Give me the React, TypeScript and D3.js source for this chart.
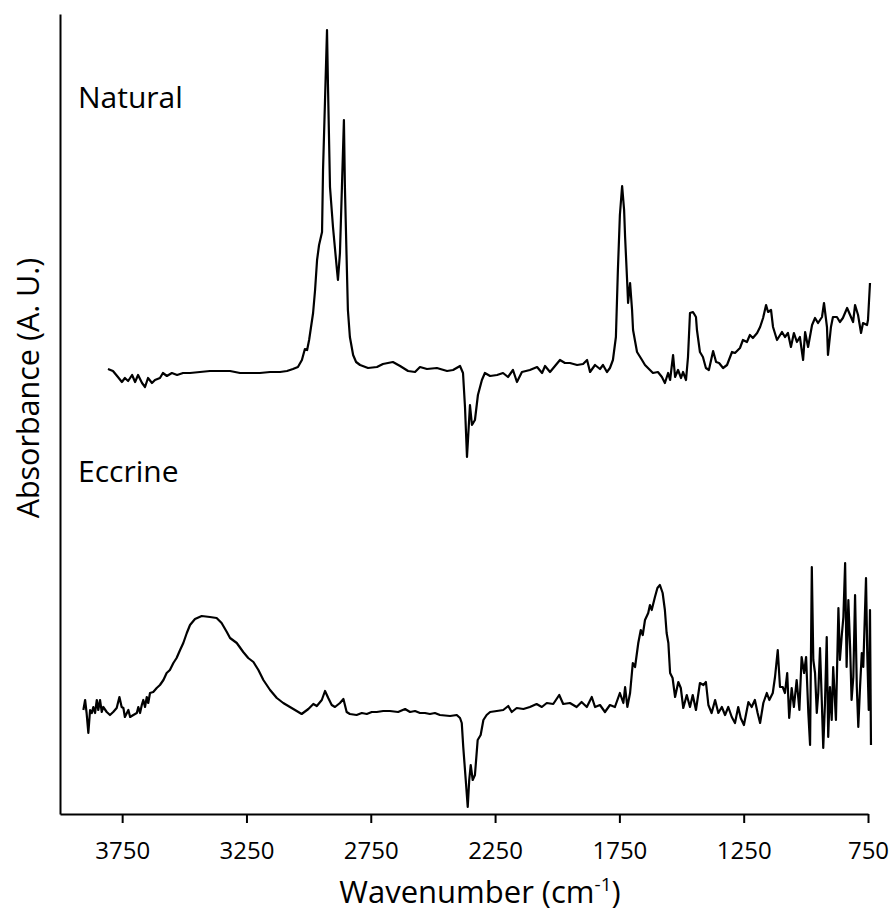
import React, { useEffect, useRef } from "react";
import * as d3 from "d3";

// wavenumber (cm-1) and absorbance (arbitrary units)
const naturalWn = [3807, 3787, 3767, 3751, 3739, 3726, 3710, 3698, 3686, 3670, 3658, 3646, 3630, 3618, 3598, 3586, 3570, 3550, 3529, 3505, 3477, 3437, 3397, 3356, 3316, 3276, 3236, 3196, 3155, 3115, 3087, 3063, 3043, 3027, 3015, 3006, 2998, 2982, 2974, 2966, 2958, 2946, 2942, 2934, 2926, 2922, 2914, 2902, 2886, 2882, 2874, 2866, 2858, 2854, 2846, 2842, 2834, 2821, 2809, 2793, 2761, 2725, 2701, 2661, 2632, 2600, 2572, 2552, 2524, 2484, 2443, 2419, 2391, 2379, 2371, 2363, 2359, 2351, 2343, 2331, 2319, 2303, 2291, 2270, 2242, 2218, 2198, 2178, 2162, 2142, 2110, 2081, 2061, 2049, 2029, 2009, 1989, 1969, 1949, 1920, 1896, 1880, 1868, 1848, 1828, 1816, 1800, 1788, 1776, 1764, 1756, 1748, 1739, 1731, 1727, 1719, 1715, 1707, 1699, 1695, 1679, 1659, 1647, 1627, 1615, 1595, 1579, 1567, 1554, 1546, 1534, 1526, 1514, 1502, 1494, 1482, 1474, 1466, 1454, 1442, 1438, 1426, 1414, 1402, 1390, 1373, 1361, 1349, 1333, 1317, 1297, 1285, 1265, 1253, 1237, 1225, 1213, 1196, 1184, 1172, 1160, 1152, 1140, 1132, 1116, 1096, 1084, 1072, 1060, 1048, 1036, 1024, 1011, 1003, 991, 975, 963, 951, 935, 927, 915, 911, 899, 891, 875, 863, 851, 834, 822, 810, 802, 790, 778, 770, 754, 750, 742];
const naturalAbs = [44.5, 44.3, 43.7, 43.2, 43.6, 43.3, 43.9, 43.2, 43.9, 43.1, 42.7, 43.6, 43.1, 43.4, 43.6, 44.1, 43.8, 44.1, 43.9, 44.1, 44.1, 44.2, 44.3, 44.3, 44.3, 44.1, 44.1, 44.1, 44.2, 44.2, 44.3, 44.5, 44.7, 45.4, 46.5, 46.4, 47.4, 50.1, 52.4, 55.4, 56.9, 58.2, 64.4, 71.4, 78.4, 72.7, 62.7, 58.7, 54.4, 53.4, 56.1, 62.7, 69.4, 62.7, 54.4, 50.4, 47.7, 45.9, 45.2, 44.9, 44.6, 44.7, 45.0, 45.2, 44.8, 44.3, 44.2, 44.7, 44.5, 44.6, 44.3, 44.4, 44.8, 44.1, 40.7, 35.7, 37.4, 40.9, 38.9, 39.4, 41.9, 43.4, 44.1, 43.8, 43.9, 44.1, 43.7, 44.4, 43.2, 44.2, 44.4, 44.7, 44.1, 44.8, 44.2, 44.8, 45.4, 45.1, 45.1, 44.9, 45.0, 45.4, 44.2, 44.9, 44.5, 44.9, 44.2, 44.6, 45.4, 47.7, 54.4, 59.9, 62.8, 60.4, 57.7, 53.4, 51.1, 53.1, 50.4, 48.4, 46.2, 45.4, 44.9, 44.4, 44.1, 44.2, 43.7, 43.1, 44.1, 43.4, 45.9, 43.7, 44.4, 43.6, 44.2, 43.4, 45.7, 50.1, 50.2, 49.7, 48.4, 46.2, 45.7, 44.6, 44.4, 46.3, 45.2, 45.1, 44.6, 44.9, 46.2, 46.1, 46.6, 47.4, 47.2, 47.9, 47.6, 48.1, 48.7, 49.6, 50.9, 50.2, 50.4, 48.7, 47.4, 48.2, 47.7, 48.1, 46.7, 48.1, 47.2, 47.7, 45.4, 48.2, 46.7, 48.9, 49.6, 49.1, 49.7, 51.1, 48.7, 45.9, 48.7, 49.7, 49.7, 49.2, 49.6, 50.6, 49.9, 49.2, 50.9, 49.9, 48.1, 49.1, 48.9, 49.4, 53.1];

const eccrineWn = [3906, 3899, 3893, 3886, 3879, 3872, 3866, 3859, 3852, 3846, 3839, 3832, 3826, 3812, 3799, 3786, 3772, 3761, 3752, 3745, 3739, 3725, 3718, 3705, 3691, 3685, 3678, 3671, 3665, 3658, 3651, 3645, 3638, 3625, 3611, 3598, 3584, 3571, 3558, 3544, 3531, 3517, 3504, 3490, 3477, 3457, 3430, 3397, 3370, 3350, 3329, 3316, 3289, 3263, 3243, 3222, 3202, 3182, 3155, 3128, 3102, 3075, 3048, 3028, 3001, 2981, 2967, 2947, 2934, 2921, 2907, 2894, 2874, 2860, 2847, 2834, 2807, 2786, 2766, 2746, 2726, 2700, 2673, 2640, 2612, 2592, 2572, 2552, 2532, 2512, 2492, 2472, 2431, 2404, 2391, 2384, 2378, 2368, 2360, 2354, 2348, 2340, 2331, 2320, 2308, 2297, 2284, 2270, 2243, 2217, 2197, 2183, 2163, 2136, 2110, 2083, 2062, 2042, 2016, 1992, 1976, 1949, 1922, 1902, 1881, 1861, 1848, 1828, 1808, 1788, 1768, 1748, 1734, 1727, 1718, 1707, 1696, 1687, 1674, 1664, 1656, 1647, 1634, 1627, 1620, 1607, 1597, 1587, 1576, 1567, 1560, 1553, 1546, 1536, 1526, 1513, 1503, 1493, 1479, 1466, 1455, 1442, 1426, 1412, 1402, 1392, 1379, 1365, 1352, 1338, 1325, 1312, 1298, 1285, 1272, 1262, 1249, 1231, 1218, 1205, 1194, 1184, 1171, 1157, 1147, 1133, 1124, 1113, 1104, 1093, 1084, 1075, 1067, 1057, 1048, 1037, 1026, 1017, 1007, 999, 990, 983, 976, 970, 963, 956, 950, 943, 936, 930, 923, 916, 910, 903, 896, 890, 879, 869, 863, 856, 849, 842, 836, 829, 822, 816, 809, 802, 795, 789, 782, 775, 769, 758, 753, 747, 742, 738];
const eccrineAbs = [10.4, 11.4, 10.1, 8.1, 10.4, 10.1, 10.7, 10.1, 11.4, 10.4, 11.4, 10.2, 10.7, 10.2, 9.9, 10.2, 10.6, 11.7, 10.7, 10.6, 9.7, 10.4, 9.7, 9.9, 10.1, 10.7, 10.1, 10.9, 11.4, 10.7, 11.7, 11.1, 12.1, 12.2, 12.6, 12.9, 13.4, 14.1, 14.4, 15.1, 15.6, 16.4, 17.1, 18.1, 18.9, 19.5, 19.8, 19.7, 19.6, 19.1, 18.2, 17.6, 17.1, 16.2, 15.6, 15.2, 14.4, 13.4, 12.4, 11.6, 11.1, 10.7, 10.3, 10.0, 10.5, 11.0, 10.8, 11.4, 12.3, 11.6, 10.9, 10.7, 11.1, 11.5, 10.2, 10.0, 9.9, 10.1, 10.0, 10.2, 10.2, 10.3, 10.3, 10.2, 10.5, 10.2, 10.3, 10.1, 10.1, 10.0, 10.1, 9.9, 9.8, 9.9, 9.6, 9.1, 6.7, 3.4, 0.7, 3.4, 4.9, 3.4, 3.9, 7.4, 7.9, 9.4, 9.9, 10.2, 10.3, 10.4, 10.8, 10.2, 10.6, 10.5, 10.7, 11.0, 10.7, 11.1, 11.0, 11.9, 11.0, 11.1, 10.7, 11.2, 10.7, 11.7, 10.7, 10.9, 10.2, 10.9, 10.7, 12.1, 11.1, 12.7, 10.7, 12.1, 15.1, 14.7, 17.1, 18.4, 17.9, 19.4, 20.1, 20.9, 20.4, 21.7, 22.6, 22.9, 22.1, 20.4, 18.1, 17.1, 14.1, 13.6, 11.7, 13.2, 12.6, 10.6, 11.9, 10.7, 11.9, 10.4, 13.1, 12.9, 13.2, 10.9, 10.1, 11.4, 10.1, 10.7, 9.9, 10.7, 9.7, 9.1, 10.7, 9.6, 8.9, 11.2, 10.7, 11.4, 10.1, 9.1, 11.1, 12.1, 11.4, 12.1, 13.7, 16.4, 12.7, 12.7, 12.1, 14.1, 9.6, 12.6, 10.7, 13.4, 10.4, 15.7, 14.1, 15.7, 10.1, 6.9, 24.7, 15.4, 14.1, 10.1, 12.1, 16.6, 11.4, 6.6, 11.1, 17.7, 7.7, 12.7, 9.4, 14.7, 9.4, 20.6, 15.4, 17.7, 19.7, 25.1, 14.7, 21.4, 16.7, 11.4, 13.7, 21.9, 12.7, 8.7, 12.7, 16.1, 14.7, 23.6, 16.1, 10.4, 20.4, 6.9];

const xTicks = [3750, 3250, 2750, 2250, 1750, 1250, 750];
const seriesLabels = ["Natural", "Eccrine"];

const FONT = "'Open Sans', sans-serif";

const App = () => {
  const ref = useRef<SVGSVGElement>(null);

  useEffect(() => {
    const svg = d3.select(ref.current);
    svg.selectAll("*").remove();

    const x = d3.scaleLinear().domain([4000, 750]).range([60, 868]);
    const y = d3.scaleLinear().domain([0, 80]).range([814, 14]);

    // x axis
    const gx = svg.append("g")
      .attr("transform", "translate(0,814)")
      .call(d3.axisBottom(x).tickValues(xTicks).tickSize(9).tickSizeOuter(0).tickPadding(19).tickFormat(d3.format("d")));
    gx.select(".domain").attr("stroke", "#000").attr("stroke-width", 2);
    gx.selectAll(".tick line").attr("stroke", "#000").attr("stroke-width", 2);
    gx.selectAll(".tick text").attr("font-family", FONT).attr("font-size", 24).attr("fill", "#000");

    // y axis, no ticks
    const gy = svg.append("g")
      .attr("transform", "translate(60,0)")
      .call(d3.axisLeft(y).tickValues([]).tickSizeOuter(0));
    gy.select(".domain").attr("stroke", "#000").attr("stroke-width", 2);

    const line = d3.line<[number, number]>()
      .x(d => x(d[0]))
      .y(d => y(d[1]));

    const natural = naturalWn.map((w, i) => [w, naturalAbs[i]] as [number, number]);
    const eccrine = eccrineWn.map((w, i) => [w, eccrineAbs[i]] as [number, number]);

    svg.selectAll("path.spectrum")
      .data([natural, eccrine])
      .join("path")
      .attr("class", "spectrum")
      .attr("d", d => line(d))
      .attr("fill", "none")
      .attr("stroke", "#000")
      .attr("stroke-width", 2.2)
      .attr("stroke-linejoin", "round");

    // series labels
    svg.selectAll("text.series")
      .data(seriesLabels)
      .join("text")
      .attr("class", "series")
      .attr("x", 78)
      .attr("y", (d, i) => (i === 0 ? 108 : 482))
      .attr("font-family", FONT)
      .attr("font-size", 30)
      .text(d => d);

    // axis titles
    const xt = svg.append("text")
      .attr("x", 480)
      .attr("y", 903)
      .attr("text-anchor", "middle")
      .attr("font-family", FONT)
      .attr("font-size", 31);
    xt.append("tspan").text("Wavenumber (cm");
    xt.append("tspan").attr("font-size", 19).attr("dy", -12).text("-1");
    xt.append("tspan").attr("dy", 12).text(")");

    svg.append("text")
      .attr("transform", "translate(39,388) rotate(-90)")
      .attr("text-anchor", "middle")
      .attr("font-family", FONT)
      .attr("font-size", 30.5)
      .text("Absorbance (A. U.)");
  }, []);

  return (
    <svg
      ref={ref}
      width={893}
      height={913}
      style={{ position: "absolute", top: 0, left: 0, background: "#fff" }}
    />
  );
};

export default App;
